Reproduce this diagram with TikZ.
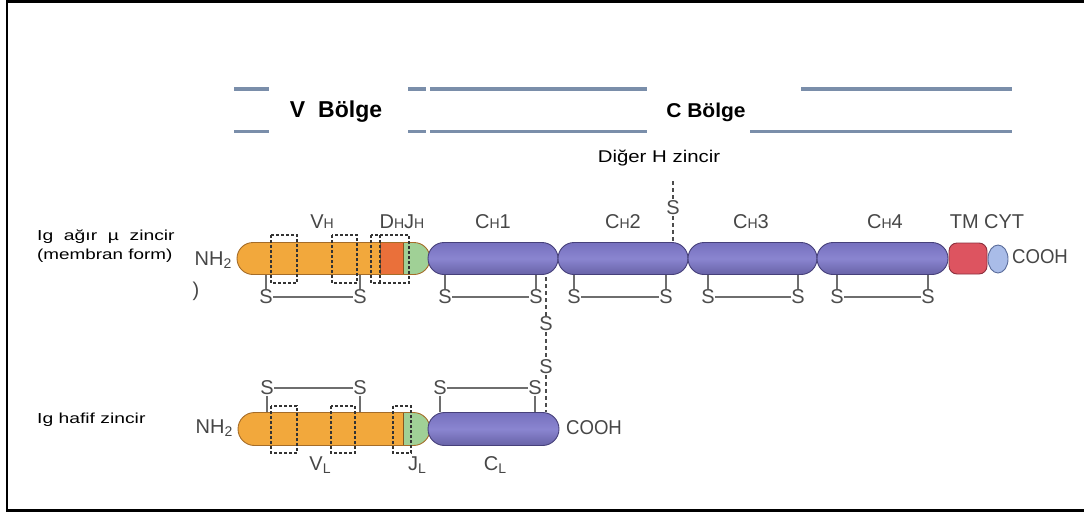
\documentclass[tikz,border=0pt]{standalone}
\usepackage{fontspec}
\setmainfont{Liberation Sans}
\usepackage{graphicx}
\usetikzlibrary{shapes.misc,shapes.geometric,calc}
\definecolor{orfill}{RGB}{242,168,60}
\definecolor{orbd}{RGB}{165,108,40}
\definecolor{dhfill}{RGB}{234,112,58}
\definecolor{grfill}{RGB}{160,208,150}
\definecolor{grbd}{RGB}{90,130,90}
\definecolor{pufill}{RGB}{118,112,190}
\definecolor{pulight}{RGB}{138,133,208}
\definecolor{pubd}{RGB}{70,64,122}
\definecolor{tmfill}{RGB}{221,84,96}
\definecolor{tmbd}{RGB}{140,48,62}
\definecolor{cytfill}{RGB}{169,188,232}
\definecolor{cytbd}{RGB}{90,108,154}
\definecolor{barc}{RGB}{122,142,170}
\definecolor{labc}{RGB}{70,70,70}
\definecolor{bondc}{RGB}{110,110,110}
\newcommand\myfs[1]{\fontsize{#1}{#1}\selectfont}
\begin{document}
\begin{tikzpicture}[x=1pt,y=-1pt,
  dom/.style={rounded rectangle, inner sep=0pt, minimum height=32pt, line width=0.9pt},
  pdom/.style={dom, draw=pubd, top color=pufill, bottom color=pufill!88!black, middle color=pulight},
  lab/.style={inner sep=0pt, text=labc, font=\myfs{20}},
  sl/.style={inner sep=0.6pt, text=black!70, font=\myfs{20}},
  bond/.style={draw=bondc, line width=1.2pt},
  dbond/.style={draw=black!70, line width=1.2pt, dash pattern=on 4pt off 3pt},
  dbox/.style={draw=black!80, line width=1.1pt, dash pattern=on 3pt off 2pt},
  bar/.style={draw=barc, line width=3.5pt},
  txt/.style={inner sep=0pt, text=black}]
\useasboundingbox (0,0) rectangle (1084,512);
% frame
\draw[line width=2.5pt] (1084,1.5) -- (7,1.5) -- (7,510.3) -- (1084,510.3);

% region bars
\draw[bar] (234,89) -- (269,89) (408,89) -- (426,89);
\draw[bar] (234,131.5) -- (269,131.5) (408,131.5) -- (426,131.5);
\draw[bar] (430,89) -- (647,89) (801,89) -- (1012,89);
\draw[bar] (430,131.5) -- (647,131.5) (750,131.5) -- (1012,131.5);
\node[txt, font=\bfseries\myfs{23}] (vreg) at (336,112) {V\hspace{13pt}Bölge};
\node[txt, font=\bfseries\myfs{20}] (creg) at (706,112) {\scalebox{1.05}[1]{C Bölge}};
\node[txt] (diger) at (659,158) {\scalebox{1.2}[1]{\myfs{17}Diğer H zincir}};

% left labels
\node[txt, anchor=west] (agir) at (37,237) {\scalebox{1.33}[1]{\myfs{14.5}Ig\hspace{4pt} ağır\hspace{4pt} µ\hspace{4pt} zincir}};
\node[txt, anchor=west] (membran) at (37,256) {\scalebox{1.3}[1]{\myfs{14.5}(membran form)}};
\node[txt, anchor=west] (hafif) at (37,420) {\scalebox{1.33}[1]{\myfs{14.5}Ig hafif zincir}};

% heavy chain domains
\node[dom, draw=orbd, minimum width=193pt,
  path picture={
    \fill[orfill] (path picture bounding box.north west) rectangle ([xshift=143pt]path picture bounding box.south west);
    \fill[dhfill] ([xshift=143pt]path picture bounding box.north west) rectangle ([xshift=166pt]path picture bounding box.south west);
    \fill[grfill] ([xshift=166pt]path picture bounding box.north west) rectangle (path picture bounding box.south east);
    \draw[orbd!80!black, line width=0.9pt] ([xshift=143pt]path picture bounding box.north west) -- ([xshift=143pt]path picture bounding box.south west);
    \draw[orbd!80!black, line width=0.9pt] ([xshift=166pt]path picture bounding box.north west) -- ([xshift=166pt]path picture bounding box.south west);
  }] (vh) at (333.5,258.5) {};
\node[pdom, minimum width=130pt] (ch1) at (493,258.5) {};
\node[pdom, minimum width=130pt] (ch2) at (623,258.5) {};
\node[pdom, minimum width=129pt] (ch3) at (752.5,258.5) {};
\node[pdom, minimum width=131pt] (ch4) at (882.5,258.5) {};
\node[rectangle, rounded corners=8pt, draw=tmbd, fill=tmfill, line width=0.9pt, minimum width=38pt, minimum height=31pt, inner sep=0pt] (tm) at (968,258.5) {};
\node[ellipse, draw=cytbd, fill=cytfill, line width=0.9pt, minimum width=20pt, minimum height=28pt, inner sep=0pt] (cyt) at (998,259) {};

% heavy dashed boxes
\draw[dbox] (271,235) rectangle (297,283);
\draw[dbox] (332,235) rectangle (357,283);
\draw[dbox] (371,235) rectangle (409,283);
\draw[dbox] (380,235) -- (380,283);

% light chain domains
\node[dom, draw=orbd, minimum width=192pt, minimum height=33pt,
  path picture={
    \fill[orfill] (path picture bounding box.north west) rectangle ([xshift=165pt]path picture bounding box.south west);
    \fill[grfill] ([xshift=165pt]path picture bounding box.north west) rectangle (path picture bounding box.south east);
    \draw[orbd!80!black, line width=0.9pt] ([xshift=165pt]path picture bounding box.north west) -- ([xshift=165pt]path picture bounding box.south west);
  }] (vl) at (334,429) {};
\node[pdom, minimum width=131pt, minimum height=33pt] (cl) at (493.5,429) {};

% light dashed boxes
\draw[dbox] (271,406) rectangle (297,453);
\draw[dbox] (331,406) rectangle (355,453);
\draw[dbox] (393,406) rectangle (411,453);

% heavy chain labels
\node[lab] (vhl) at (322,222) {V\myfs{14}H};
\node[lab] (dhjhl) at (402,222) {D\myfs{14}H\myfs{20}J\myfs{14}H};
\node[lab] (ch1l) at (493,222) {C\myfs{14}H\myfs{20}1};
\node[lab] (ch2l) at (623,222) {C\myfs{14}H\myfs{20}2};
\node[lab] (ch3l) at (751,222) {C\myfs{14}H\myfs{20}3};
\node[lab] (ch4l) at (885,222) {C\myfs{14}H\myfs{20}4};
\node[lab] (tmcyt) at (987,222) {TM CYT};
\node[lab] (nh2a) at (213,260) {NH\raisebox{-3pt}{\myfs{14}2}};
\node[lab] (cooha) at (1040,257) {\scalebox{0.93}[1]{COOH}};
\node[lab] (paren) at (196,291) {)};

% light chain labels
\node[lab] (nh2b) at (214,428) {NH\raisebox{-3pt}{\myfs{14}2}};
\node[lab] (coohb) at (594,428) {\scalebox{0.93}[1]{COOH}};
\node[lab] (vll) at (320,465) {V\raisebox{-3pt}{\myfs{14}L}};
\node[lab] (jll) at (417,465) {J\raisebox{-3pt}{\myfs{14}L}};
\node[lab] (cll) at (495,465) {C\raisebox{-3pt}{\myfs{14}L}};

% heavy intrachain S-S bonds
\foreach \n/\xa/\xb/\d in {h1/266/360/vh, h2/445/536/ch1, h3/574/666/ch2, h4/708/798/ch3, h5/837/928/ch4}{
  \node[sl] (\n a) at (\xa,297) {S};
  \node[sl] (\n b) at (\xb,297) {S};
  \draw[bond] (\n a) -- (\n b);
  \draw[bond] (\n a.north) -- (\n a.north |- \d.south);
  \draw[bond] (\n b.north) -- (\n b.north |- \d.south);
}

% light intrachain S-S bonds
\foreach \n/\xa/\xb/\d in {l1/267/360/vl, l2/440/535/cl}{
  \node[sl] (\n a) at (\xa,388) {S};
  \node[sl] (\n b) at (\xb,388) {S};
  \draw[bond] (\n a) -- (\n b);
  \draw[bond] (\n a.south) -- (\n a.south |- \d.north);
  \draw[bond] (\n b.south) -- (\n b.south |- \d.north);
}

% interchain bonds
\node[sl, fill=white] (i1) at (546,324) {S};
\node[sl, fill=white] (i2) at (546,367) {S};
\draw[dbond] (i1) -- (i1 |- ch1.south);
\draw[dbond] (i1) -- (i2);
\draw[dbond] (i2) -- (i2 |- cl.north);

\node[sl, fill=white] (t1) at (673,208) {S};
\coordinate (t0) at (673,181);
\draw[dbond] (t0) -- (t1);
\draw[dbond] (t1) -- (t1 |- ch2.north);
\end{tikzpicture}
\end{document}
